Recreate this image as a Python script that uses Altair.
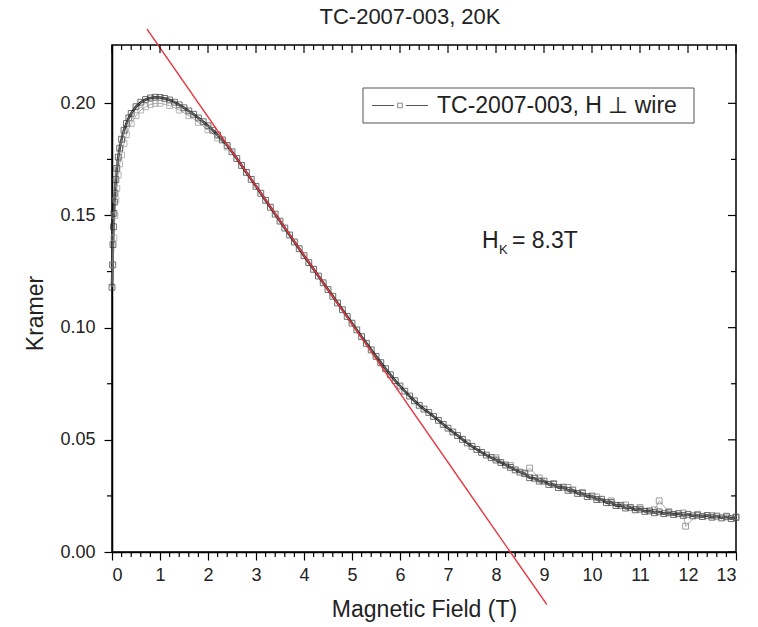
import altair as alt
import pandas as pd

# ---------------- data ----------------
# main sweep (dark squares)
a_x = [0.00, 0.01, 0.02, 0.03, 0.04, 0.05, 0.06, 0.08, 0.10, 0.13, 0.16, 0.20, 0.25, 0.30, 0.35,
       0.40, 0.50, 0.60, 0.70, 0.80, 0.90, 1.00, 1.10, 1.20, 1.30, 1.40, 1.50, 1.60, 1.70, 1.80,
       1.90, 2.00, 2.10, 2.20, 2.30, 2.40, 2.50, 2.60, 2.70, 2.80, 2.90, 3.00, 3.10, 3.20, 3.30,
       3.40, 3.50, 3.60, 3.70, 3.80, 3.90, 4.00, 4.10, 4.20, 4.30, 4.40, 4.50, 4.60, 4.70, 4.80,
       4.90, 5.00, 5.10, 5.20, 5.30, 5.40, 5.50, 5.60, 5.70, 5.80, 5.90, 6.00, 6.10, 6.20, 6.30,
       6.40, 6.50, 6.60, 6.70, 6.80, 6.90, 7.00, 7.10, 7.20, 7.30, 7.40, 7.50, 7.60, 7.70, 7.80,
       7.90, 8.00, 8.10, 8.20, 8.30, 8.40, 8.50, 8.60, 8.70, 8.80, 8.90, 9.00, 9.10, 9.20, 9.30,
       9.40, 9.50, 9.60, 9.70, 9.80, 9.90, 10.00, 10.10, 10.20, 10.30, 10.40, 10.50, 10.60, 10.70,
       10.80, 10.90, 11.00, 11.10, 11.20, 11.30, 11.40, 11.50, 11.60, 11.70, 11.80, 11.90, 12.00,
       12.10, 12.20, 12.30, 12.40, 12.50, 12.60, 12.70, 12.80, 12.90, 13.00]
a_y = [0.118, 0.128, 0.137, 0.145, 0.151, 0.156, 0.160, 0.166, 0.171, 0.176, 0.180, 0.184, 0.188,
       0.191, 0.1935, 0.1955, 0.1985, 0.2005, 0.2017, 0.2024, 0.2027, 0.2026, 0.2022, 0.2015,
       0.2005, 0.1993, 0.1980, 0.1966, 0.1951, 0.1935, 0.1918, 0.1900, 0.1880, 0.1859, 0.1837,
       0.1812, 0.1784, 0.1754, 0.1723, 0.1692, 0.1661, 0.1630, 0.1599, 0.1568, 0.1537, 0.1506,
       0.1475, 0.1444, 0.1413, 0.1382, 0.1352, 0.1321, 0.1290, 0.1260, 0.1230, 0.1200, 0.1170,
       0.1140, 0.1110, 0.1080, 0.1050, 0.1020, 0.0990, 0.0960, 0.0930, 0.0901, 0.0872, 0.0844,
       0.0817, 0.0790, 0.0764, 0.0740, 0.0717, 0.0695, 0.0674, 0.0654, 0.0637, 0.0622, 0.0604,
       0.0587, 0.0569, 0.0552, 0.0535, 0.0519, 0.0502, 0.0486, 0.0471, 0.0457, 0.0444, 0.0432,
       0.0421, 0.0410, 0.0399, 0.0388, 0.0377, 0.0366, 0.0356, 0.0349, 0.0331, 0.0329, 0.0316,
       0.0316, 0.0301, 0.0302, 0.0287, 0.0289, 0.0275, 0.0276, 0.0261, 0.0262, 0.0247, 0.0249,
       0.0234, 0.0235, 0.0220, 0.0221, 0.0207, 0.0208, 0.0196, 0.0199, 0.0188, 0.0191, 0.0181,
       0.0183, 0.0175, 0.0179, 0.0171, 0.0175, 0.0167, 0.0171, 0.0163, 0.0168, 0.0161, 0.0164,
       0.0158, 0.0163, 0.0155, 0.0160, 0.0152, 0.0157, 0.0149, 0.0154]

# second (lighter) sweep, visible at low field and in the noisy tail
b1_x = [0.02, 0.04, 0.06, 0.08, 0.10, 0.13, 0.16, 0.20, 0.25, 0.30, 0.40, 0.50, 0.60, 0.70, 0.80,
        0.90, 1.00, 1.20, 1.40, 1.60, 1.80, 2.00, 2.20, 2.40]
b1_y = [0.128, 0.140, 0.150, 0.157, 0.162, 0.168, 0.173, 0.177, 0.182, 0.186, 0.191, 0.1945,
        0.197, 0.1985, 0.1995, 0.2000, 0.2000, 0.1990, 0.1970, 0.1945, 0.1915, 0.1882, 0.1845,
        0.1805]
b2_x = [8.00, 8.30, 8.60, 8.70, 8.90, 9.20, 9.50, 9.80, 10.10, 10.40, 10.70, 11.00, 11.30, 11.40,
        11.60, 11.90, 11.95, 12.20, 12.50, 12.80, 13.00]
b2_y = [0.0420, 0.0385, 0.0352, 0.0374, 0.0330, 0.0305, 0.0288, 0.0265, 0.0245, 0.0228, 0.0210,
        0.0198, 0.0188, 0.0228, 0.0180, 0.0174, 0.0115, 0.0168, 0.0162, 0.0160, 0.0157]

# linear extrapolation giving H_K = 8.3 T
fit_x = [0.73, 9.06]
fit_y = [0.2331, -0.0235]

x_major = [0, 1, 2, 3, 4, 5, 6, 7, 8, 9, 10, 11, 12, 13]
x_minor = [round(i * 0.2, 1) for i in range(66) if i % 5 != 0]
y_major = [0.00, 0.05, 0.10, 0.15, 0.20]
y_minor = [0.025, 0.075, 0.125, 0.175]

title_text = "TC-2007-003, 20K"
legend_text = "TC-2007-003, H \u22a5 wire"
x_title = "Magnetic Field (T)"
y_title = "Kramer"

# ---------------- layout ----------------
W, H = 624, 507
FONT = "Liberation Sans"
XD = [0, 13]
YD = [0, 0.226]

pts = pd.concat([
    pd.DataFrame({"x": a_x, "y": a_y, "branch": "a"}),
    pd.DataFrame({"x": b1_x, "y": b1_y, "branch": "b1"}),
    pd.DataFrame({"x": b2_x, "y": b2_y, "branch": "b2"}),
])
main = pts[pts["branch"] == "a"]
fit = pd.DataFrame({"x": fit_x, "y": fit_y})
one = pd.DataFrame({"k": [0]})

xs = alt.Scale(domain=XD, nice=False, zero=False)
ys = alt.Scale(domain=YD, nice=False, zero=False)

xaxis = alt.Axis(values=x_major, format="d", tickSize=8, tickColor="black", tickWidth=1.2,
                 domainColor="black", domainWidth=1.5, labelFontSize=18, labelFont=FONT,
                 labelColor="#222", labelPadding=6, title=x_title, titleFont=FONT,
                 titleFontSize=23, titleFontWeight="normal", titleColor="#222", titlePadding=14,
                 grid=False)
yaxis = alt.Axis(values=y_major, format=".2f", tickSize=8, tickColor="black", tickWidth=1.2,
                 domainColor="black", domainWidth=1.5, labelFontSize=18, labelFont=FONT,
                 labelColor="#222", labelPadding=9, title=y_title, titleFont=FONT,
                 titleFontSize=23, titleFontWeight="normal", titleColor="#222", titlePadding=12,
                 titleY=268, grid=False)

band = alt.Chart(main).mark_line(strokeWidth=2.6, color="#3a3a3a").encode(
    x=alt.X("x:Q", scale=xs, axis=xaxis),
    y=alt.Y("y:Q", scale=ys, axis=yaxis),
)
lines = alt.Chart(pts).mark_line(strokeWidth=0.7, color="#888").encode(
    x=alt.X("x:Q", scale=xs),
    y=alt.Y("y:Q", scale=ys),
    detail="branch:N",
)
points = alt.Chart(pts).mark_point(shape="square", filled=False, size=34, strokeWidth=1).encode(
    x=alt.X("x:Q", scale=xs),
    y=alt.Y("y:Q", scale=ys),
    color=alt.Color("branch:N",
                    scale=alt.Scale(domain=["a", "b1", "b2"], range=["#333333", "#999999", "#777777"]),
                    legend=None),
)
fitline = alt.Chart(fit).mark_line(color="#e8333c", strokeWidth=1.4, clip=False).encode(
    x=alt.X("x:Q", scale=xs), y=alt.Y("y:Q", scale=ys)
)

# minor / mirror ticks
xmaj = pd.DataFrame({"v": x_major})
xmin = pd.DataFrame({"v": x_minor})
ymaj = pd.DataFrame({"v": y_major})
ymin = pd.DataFrame({"v": y_minor})
tick_style = dict(color="black", strokeWidth=1.2, clip=False)

top_major = alt.Chart(xmaj).mark_rule(**tick_style).encode(
    x=alt.X("v:Q", scale=xs), y=alt.value(0), y2=alt.value(8))
top_minor = alt.Chart(xmin).mark_rule(**tick_style).encode(
    x=alt.X("v:Q", scale=xs), y=alt.value(0), y2=alt.value(5))
bot_minor = alt.Chart(xmin).mark_rule(**tick_style).encode(
    x=alt.X("v:Q", scale=xs), y=alt.value(H), y2=alt.value(H + 5))
right_major = alt.Chart(ymaj).mark_rule(**tick_style).encode(
    y=alt.Y("v:Q", scale=ys), x=alt.value(W - 8), x2=alt.value(W))
right_minor = alt.Chart(ymin).mark_rule(**tick_style).encode(
    y=alt.Y("v:Q", scale=ys), x=alt.value(W - 5), x2=alt.value(W))
left_minor = alt.Chart(ymin).mark_rule(**tick_style).encode(
    y=alt.Y("v:Q", scale=ys), x=alt.value(-5), x2=alt.value(0))

# title
title = alt.Chart(one).mark_text(fontSize=22, font=FONT, color="#222", baseline="middle",
                                 align="center").encode(
    x=alt.value(298), y=alt.value(-28), text=alt.value(title_text))

# legend (drawn by hand)
LX, LY = 251, 43
leg_box = alt.Chart(one).mark_rect(fill="white", stroke="#555", strokeWidth=1).encode(
    x=alt.value(LX), x2=alt.value(LX + 331), y=alt.value(LY), y2=alt.value(LY + 35))
leg_l1 = alt.Chart(one).mark_rule(color="#555", strokeWidth=1).encode(
    x=alt.value(LX + 9), x2=alt.value(LX + 31), y=alt.value(LY + 17.5))
leg_l2 = alt.Chart(one).mark_rule(color="#555", strokeWidth=1).encode(
    x=alt.value(LX + 43), x2=alt.value(LX + 65), y=alt.value(LY + 17.5))
leg_sq = alt.Chart(one).mark_point(shape="square", filled=False, size=22, color="#444",
                                   strokeWidth=0.9).encode(
    x=alt.value(LX + 37), y=alt.value(LY + 17.5))
leg_tx = alt.Chart(one).mark_text(fontSize=23, font=FONT, color="#222", align="left",
                                  baseline="middle").encode(
    x=alt.value(LX + 74), y=alt.value(LY + 18), text=alt.value(legend_text))

# H_K annotation
ann_h = alt.Chart(one).mark_text(fontSize=23, font=FONT, color="#222", align="left",
                                 baseline="alphabetic").encode(
    x=alt.value(370), y=alt.value(203), text=alt.value("H"))
ann_k = alt.Chart(one).mark_text(fontSize=13, font=FONT, color="#222", align="left",
                                 baseline="alphabetic").encode(
    x=alt.value(387), y=alt.value(209), text=alt.value("K"))
ann_v = alt.Chart(one).mark_text(fontSize=23, font=FONT, color="#222", align="left",
                                 baseline="alphabetic").encode(
    x=alt.value(400), y=alt.value(203), text=alt.value(" = 8.3T"))

chart = alt.layer(
    band, lines, points, fitline,
    top_major, top_minor, bot_minor, right_major, right_minor, left_minor,
    leg_box, leg_l1, leg_l2, leg_sq, leg_tx,
    ann_h, ann_k, ann_v, title,
).properties(
    width=W, height=H,
    autosize=alt.AutoSizeParams(type="none"),
    padding={"left": 112, "top": 45, "right": 22, "bottom": 75},
    background="white",
).configure_view(stroke="black", strokeWidth=1.5)

chart.save("out.html", embed_options={"renderer": "svg", "actions": False})
